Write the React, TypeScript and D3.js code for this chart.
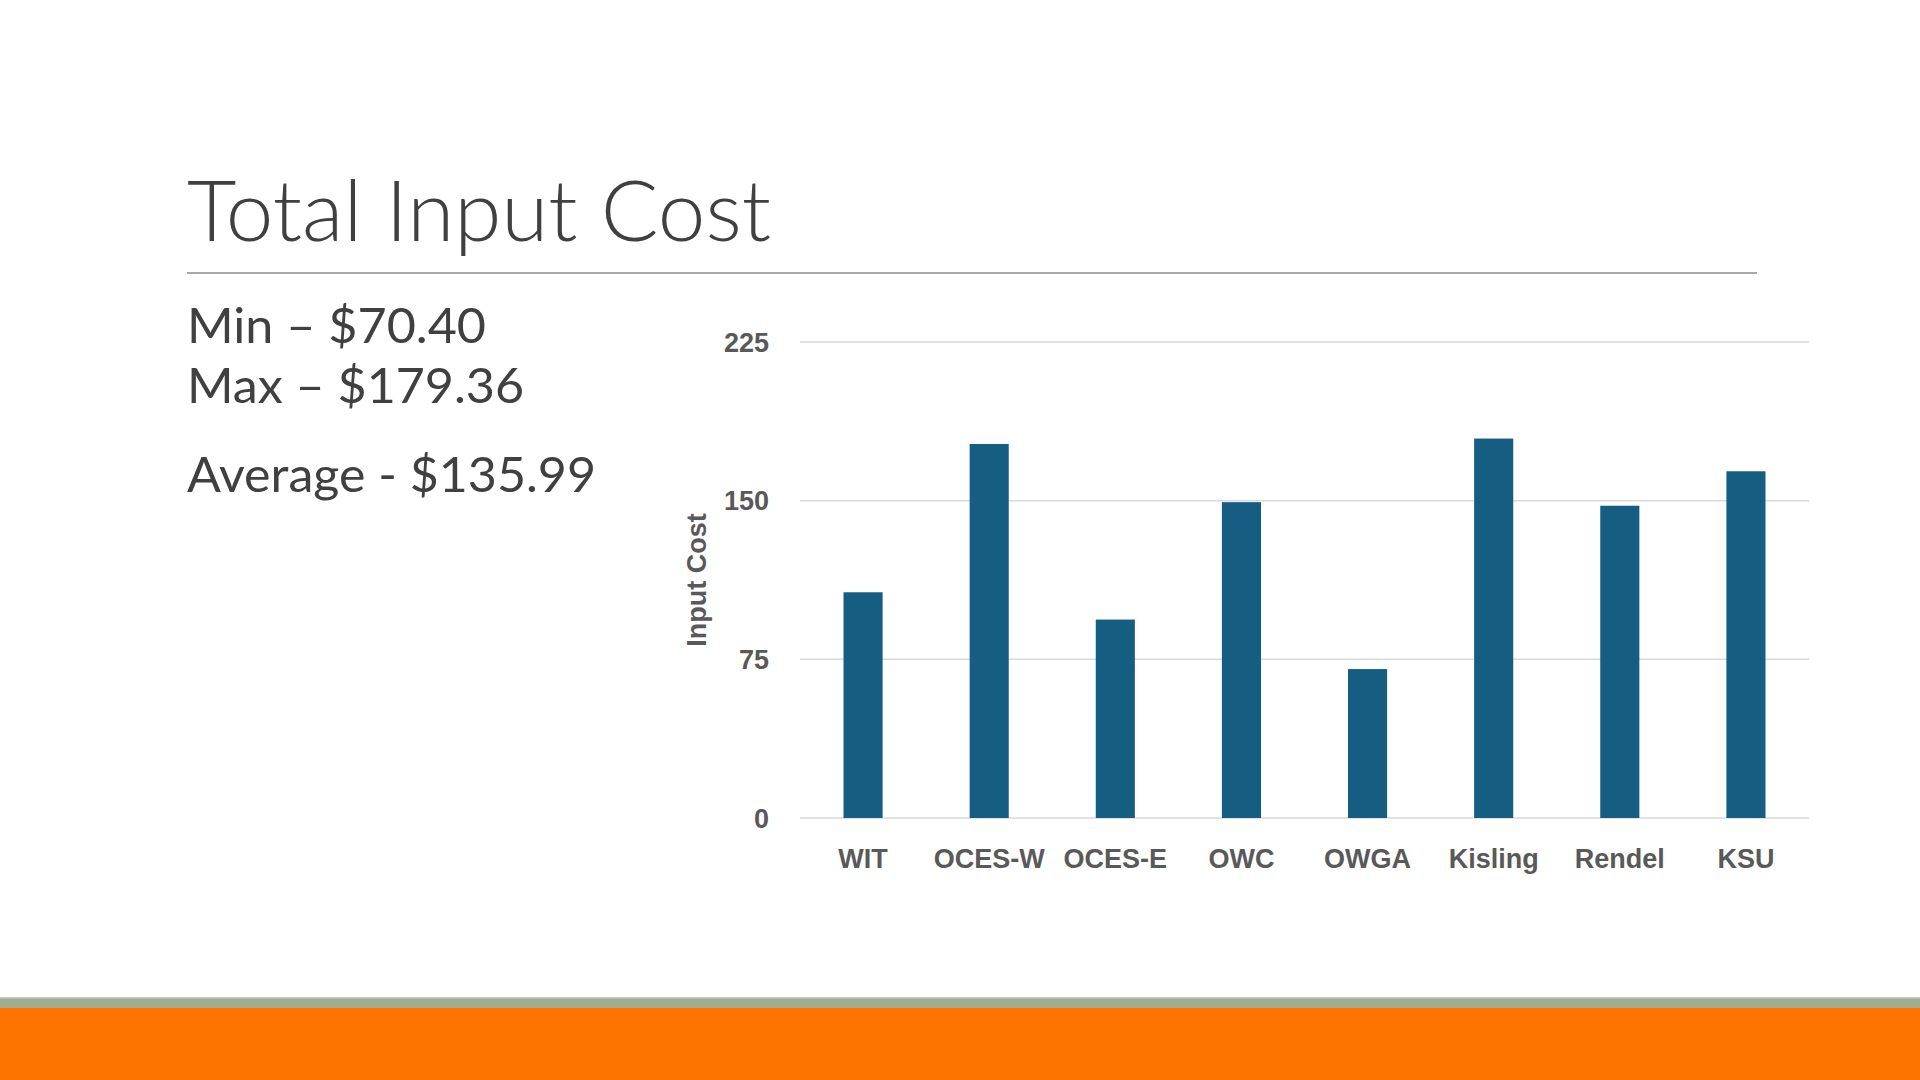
import { useEffect } from "react";
import * as d3 from "d3";

const categories = ["WIT", "OCES-W", "OCES-E", "OWC", "OWGA", "Kisling", "Rendel", "KSU"];
const inputCost = [106.7, 176.8, 93.8, 149.3, 70.4, 179.36, 147.6, 163.9];
const yTicks = [0, 75, 150, 225];

const title = "Total Input Cost";
const statLines = [
  { text: "Min – $70.40", width: 299 },
  { text: "Max – $179.36", width: 337 },
  { text: "Average - $135.99", width: 409 },
];

const W = 1920;
const H = 1080;
const plot = { left: 800, right: 1809, top: 342, bottom: 818 };

const BAR = "#165e81";
const TEXT = "#404040";
const AXIS_TEXT = "#595959";
const GRID = "#d9d9d9";
const chartFont = "'Liberation Sans', Arial, sans-serif";
const slideFont = "Lato, 'Open Sans', sans-serif";

export default function App() {
  useEffect(() => {
    document.body.style.margin = "0";
    document.body.style.overflow = "hidden";
  }, []);

  const x = d3
    .scaleBand<string>()
    .domain(categories)
    .range([plot.left, plot.right])
    .paddingInner(0.69)
    .paddingOuter(0.345);

  const y = d3.scaleLinear().domain([0, 225]).range([plot.bottom, plot.top]);

  const statY = [343, 403, 492];

  return (
    <svg width={W} height={H} style={{ display: "block", background: "#fff" }}>
      {/* slide title */}
      <text
        x={187}
        y={241}
        fill={TEXT}
        fontFamily={slideFont}
        fontWeight={300}
        fontSize={85}
        textLength={584}
        lengthAdjust="spacingAndGlyphs"
      >
        {title}
      </text>
      <line x1={187} x2={1757} y1={273} y2={273} stroke="#8c8c8c" strokeWidth={1.5} />

      {/* summary stats */}
      {statLines.map((s, i) => (
        <text
          key={s.text}
          x={187}
          y={statY[i]}
          fill={TEXT}
          fontFamily={slideFont}
          fontSize={49}
          textLength={s.width}
          lengthAdjust="spacingAndGlyphs"
        >
          {s.text}
        </text>
      ))}

      {/* gridlines + y ticks */}
      {yTicks.map((t) => (
        <g key={t}>
          <line x1={plot.left} x2={plot.right} y1={y(t)} y2={y(t)} stroke={GRID} strokeWidth={1.5} />
          <text
            x={769}
            y={y(t)}
            dy="0.36em"
            textAnchor="end"
            fill={AXIS_TEXT}
            fontFamily={chartFont}
            fontWeight={700}
            fontSize={27}
          >
            {t}
          </text>
        </g>
      ))}

      {/* bars */}
      {categories.map((c, i) => (
        <rect
          key={c}
          x={x(c)}
          y={y(inputCost[i])}
          width={x.bandwidth()}
          height={y(0) - y(inputCost[i])}
          fill={BAR}
        />
      ))}

      {/* category labels */}
      {categories.map((c) => (
        <text
          key={c}
          x={(x(c) ?? 0) + x.bandwidth() / 2}
          y={868}
          textAnchor="middle"
          fill={AXIS_TEXT}
          fontFamily={chartFont}
          fontWeight={700}
          fontSize={27}
        >
          {c}
        </text>
      ))}

      {/* y axis title */}
      <text
        transform={`translate(706, ${(plot.top + plot.bottom) / 2}) rotate(-90)`}
        textAnchor="middle"
        fill={AXIS_TEXT}
        fontFamily={chartFont}
        fontWeight={700}
        fontSize={27}
      >
        Input Cost
      </text>

      {/* footer bands */}
      <rect x={0} y={997} width={W} height={11} fill="#a2ad8f" />
      <rect x={0} y={997} width={W} height={1.5} fill="#c8cebe" />
      <rect x={0} y={1008} width={W} height={72} fill="#ff7400" />
    </svg>
  );
}
